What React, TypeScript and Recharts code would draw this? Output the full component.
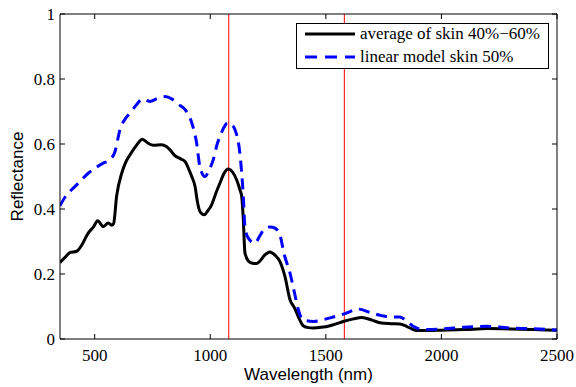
import { LineChart, Line, XAxis, YAxis, ReferenceLine, Legend } from 'recharts';

// measured average of skin 40%-60%
const avgWavelength = [
  350, 370, 393, 422, 445, 472, 495, 513, 537, 559, 575, 582, 595, 617, 635, 653, 680, 706, 730, 754,
  790, 810, 826, 847, 870, 891, 905, 920, 934, 945, 955, 974, 990, 1006, 1025, 1042, 1060, 1078, 1095,
  1114, 1128, 1136, 1143, 1150, 1165, 1179, 1200, 1215, 1235, 1258, 1280, 1301, 1323, 1345, 1365, 1380,
  1402, 1425, 1446, 1480, 1518, 1550, 1575, 1620, 1655, 1700, 1734, 1780, 1820, 1849, 1870, 1893, 1950,
  2000, 2100, 2200, 2300, 2400, 2500,
];
const avgReflectance = [
  0.235, 0.25, 0.266, 0.27, 0.29, 0.326, 0.345, 0.364, 0.346, 0.357, 0.35, 0.355, 0.44, 0.51, 0.545,
  0.567, 0.595, 0.615, 0.603, 0.596, 0.598, 0.592, 0.582, 0.564, 0.555, 0.546, 0.526, 0.5, 0.47, 0.42,
  0.393, 0.382, 0.395, 0.413, 0.45, 0.48, 0.51, 0.523, 0.515, 0.49, 0.46, 0.439, 0.367, 0.265, 0.24,
  0.234, 0.232, 0.24, 0.258, 0.268, 0.258, 0.239, 0.193, 0.121, 0.095, 0.07, 0.041, 0.035, 0.034, 0.036,
  0.041, 0.048, 0.054, 0.062, 0.066, 0.058, 0.05, 0.047, 0.046, 0.039, 0.032, 0.026, 0.026, 0.027,
  0.029, 0.032, 0.031, 0.029, 0.027,
];

// linear model skin 50%
const modelWavelength = [
  350, 375, 400, 430, 472, 500, 537, 566, 588, 600, 609, 630, 653, 680, 706, 739, 770, 804, 835, 862,
  891, 920, 941, 955, 977, 995, 1013, 1030, 1042, 1060, 1075, 1092, 1107, 1128, 1143, 1150, 1164, 1193,
  1215, 1237, 1260, 1280, 1301, 1320, 1345, 1365, 1381, 1402, 1446, 1480, 1518, 1555, 1590, 1640, 1691,
  1740, 1777, 1820, 1850, 1878, 1910, 1936, 2008, 2094, 2195, 2250, 2296, 2383, 2500,
];
const modelReflectance = [
  0.41, 0.44, 0.459, 0.48, 0.51, 0.525, 0.541, 0.552, 0.577, 0.615, 0.644, 0.675, 0.695, 0.72, 0.738,
  0.731, 0.74, 0.746, 0.738, 0.722, 0.706, 0.665, 0.603, 0.531, 0.5, 0.52, 0.552, 0.6, 0.623, 0.652,
  0.665, 0.66, 0.644, 0.572, 0.439, 0.346, 0.311, 0.295, 0.318, 0.341, 0.345, 0.341, 0.321, 0.26,
  0.203, 0.14, 0.09, 0.059, 0.054, 0.058, 0.065, 0.072, 0.08, 0.092, 0.082, 0.072, 0.068, 0.068, 0.055,
  0.039, 0.03, 0.029, 0.031, 0.036, 0.039, 0.037, 0.034, 0.032, 0.028,
];

const xTicks = [500, 1000, 1500, 2000, 2500];
const yTicks = [0, 0.2, 0.4, 0.6, 0.8, 1];
const bandMarkers = [1080, 1580];

const seriesNames = ['average of skin 40%\u221260%', 'linear model skin 50%'];

const serif = "'Liberation Serif', 'Times New Roman', serif";
const sans = "'Liberation Sans', Arial, sans-serif";

const avgData = avgWavelength.map((wl, i) => ({ wl, value: avgReflectance[i] }));
const modelData = modelWavelength.map((wl, i) => ({ wl, value: modelReflectance[i] }));

const BottomTick = ({ x, y, payload }: any) => (
  <g>
    <line x1={x} x2={x} y1={y} y2={y - 5} stroke="#000" />
    <text x={x} y={y + 22} textAnchor="middle" fontFamily={serif} fontSize={17} fill="#000">
      {payload.value}
    </text>
  </g>
);

const TopTick = ({ x, y }: any) => <line x1={x} x2={x} y1={y} y2={y + 5} stroke="#000" />;

const LeftTick = ({ x, y, payload }: any) => (
  <g>
    <line x1={x} x2={x + 5} y1={y} y2={y} stroke="#000" />
    <text x={x - 5} y={y + 6} textAnchor="end" fontFamily={serif} fontSize={17} fill="#000">
      {payload.value}
    </text>
  </g>
);

const RightTick = ({ x, y }: any) => <line x1={x} x2={x - 5} y1={y} y2={y} stroke="#000" />;

const LegendBox = () => (
  <svg width={253} height={46} style={{ display: 'block' }}>
    <rect x={0.5} y={0.5} width={252} height={45} fill="#fff" stroke="#000" />
    <line x1={9} x2={59} y1={11} y2={11} stroke="#000" strokeWidth={3} />
    <text x={64} y={16} fontFamily={serif} fontSize={17} fill="#000">
      {seriesNames[0]}
    </text>
    <line x1={9} x2={59} y1={34} y2={34} stroke="#0000ff" strokeWidth={3} strokeDasharray="12 8" />
    <text x={64} y={39} fontFamily={serif} fontSize={17} fill="#000">
      {seriesNames[1]}
    </text>
  </svg>
);

export default function App() {
  return (
    <div style={{ position: 'absolute', left: 0, top: 0, width: 576, height: 387, background: '#fff' }}>
      <LineChart width={576} height={387} margin={{ top: 4, right: 9, bottom: 0, left: 0 }}>
        <XAxis
          xAxisId="bottom"
          dataKey="wl"
          type="number"
          domain={[350, 2500]}
          ticks={xTicks}
          height={48}
          tickSize={0}
          tickMargin={0}
          tickLine={false}
          axisLine={{ stroke: '#000' }}
          tick={<BottomTick />}
          allowDataOverflow
          label={({ viewBox }: any) => (
            <text
              x={viewBox.x + viewBox.width / 2}
              y={viewBox.y + 41}
              textAnchor="middle"
              fontFamily={sans}
              fontSize={17}
              fill="#000"
            >
              Wavelength (nm)
            </text>
          )}
        />
        <XAxis
          xAxisId="top"
          orientation="top"
          dataKey="wl"
          type="number"
          domain={[350, 2500]}
          ticks={xTicks}
          height={10}
          tickSize={0}
          tickMargin={0}
          tickLine={false}
          axisLine={{ stroke: '#000' }}
          tick={<TopTick />}
          allowDataOverflow
        />
        <YAxis
          yAxisId="left"
          type="number"
          domain={[0, 1]}
          ticks={yTicks}
          width={60}
          tickSize={0}
          tickMargin={0}
          tickLine={false}
          axisLine={{ stroke: '#000' }}
          tick={<LeftTick />}
          allowDataOverflow
          label={({ viewBox }: any) => {
            const cx = 17;
            const cy = viewBox.y + viewBox.height / 2;
            return (
              <text
                x={cx}
                y={cy}
                transform={`rotate(-90 ${cx} ${cy})`}
                textAnchor="middle"
                dominantBaseline="central"
                fontFamily={sans}
                fontSize={17}
                fill="#000"
              >
                Reflectance
              </text>
            );
          }}
        />
        <YAxis
          yAxisId="right"
          orientation="right"
          type="number"
          domain={[0, 1]}
          ticks={yTicks}
          width={10}
          tickSize={0}
          tickMargin={0}
          tickLine={false}
          axisLine={{ stroke: '#000' }}
          tick={<RightTick />}
          allowDataOverflow
        />
        {bandMarkers.map((m) => (
          <ReferenceLine key={m} x={m} xAxisId="bottom" yAxisId="left" stroke="#ff0000" strokeWidth={1} />
        ))}
        <Line
          data={avgData}
          dataKey="value"
          xAxisId="bottom"
          yAxisId="left"
          type="monotone"
          stroke="#000"
          strokeWidth={3}
          dot={false}
          isAnimationActive={false}
        />
        <Line
          data={modelData}
          dataKey="value"
          xAxisId="bottom"
          yAxisId="left"
          type="monotone"
          stroke="#0000ff"
          strokeWidth={3}
          strokeDasharray="11 7"
          dot={false}
          isAnimationActive={false}
        />
        <Legend
          layout="vertical"
          align="center"
          verticalAlign="middle"
          wrapperStyle={{ left: 296, top: 23, width: 253, height: 46 }}
          content={() => <LegendBox />}
        />
      </LineChart>
    </div>
  );
}
